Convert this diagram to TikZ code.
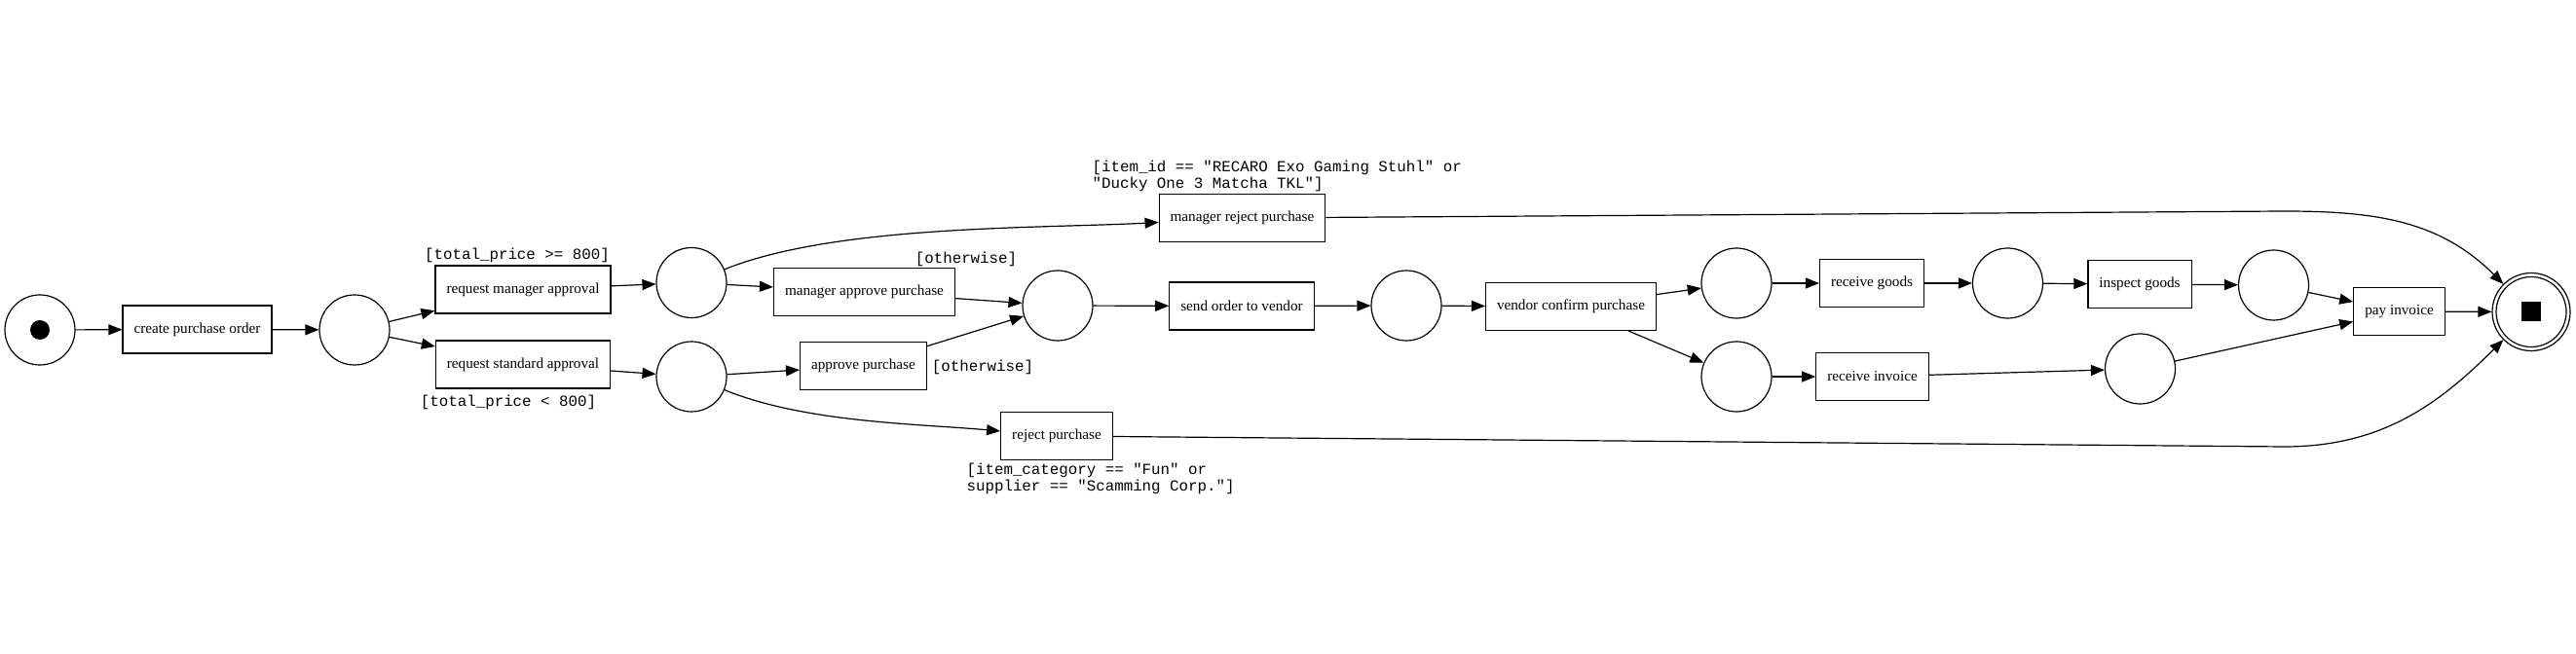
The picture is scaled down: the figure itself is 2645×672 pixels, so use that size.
\documentclass[tikz,border=0pt]{standalone}
\usepackage{fontspec}
\setmainfont{Liberation Serif}
\setmonofont{Liberation Mono}
\usetikzlibrary{arrows.meta}

\begin{document}
\begin{tikzpicture}[x=0.5pt, y=-0.5pt, line width=0.6pt,
  place/.style={circle, draw, minimum size=36pt, inner sep=0pt},
  trans/.style={draw, rectangle, minimum height=24.5pt, inner xsep=5.75pt, font=\fontsize{7.6}{9}\selectfont},
  guard/.style={font=\ttfamily\fontsize{7.9}{8.3}\selectfont, align=left, inner sep=0pt},
  flow/.style={-{Triangle[length=7pt,width=5.5pt]}}]
\useasboundingbox (0,0) rectangle (2645,672);
\node[place] (start) at (41,339) {};
\node[circle, fill, minimum size=10pt, inner sep=0pt] (token) at (start) {};
\node[trans] (create) at (202.5,338.5) {create purchase order};
\node[place] (p1) at (364,339) {};
\node[trans] (reqmgr) at (537,297.5) {request manager approval};
\node[trans] (reqstd) at (537,374.5) {request standard approval};
\node[place] (pmgr) at (710,290.5) {};
\node[place] (pstd) at (710,387) {};
\node[trans] (mgrappr) at (887.5,300) {manager approve purchase};
\node[trans] (mgrrej) at (1275.5,224) {manager reject purchase};
\node[trans] (appr) at (886.5,376) {approve purchase};
\node[trans] (rej) at (1085,448) {reject purchase};
\node[place] (pjoin) at (1086,314) {};
\node[trans] (send) at (1275,314.5) {send order to vendor};
\node[place] (psend) at (1444,314) {};
\node[trans] (confirm) at (1613,315) {vendor confirm purchase};
\node[place] (pg1) at (1783,291) {};
\node[place] (pi1) at (1783,387) {};
\node[trans] (recgoods) at (1922,291) {receive goods};
\node[trans] (recinv) at (1922.5,387) {receive invoice};
\node[place] (pg2) at (2061.5,291) {};
\node[trans] (inspect) at (2197,292) {inspect goods};
\node[place] (pg3) at (2334.5,293) {};
\node[place] (pi2) at (2197.5,379) {};
\node[trans] (pay) at (2463.5,320) {pay invoice};
\node[place, minimum size=40pt] (end) at (2599,320.5) {};
\node[place] (endin) at (end) {};
\node[fill, minimum size=10pt, inner sep=0pt] (endmark) at (end) {};

\node[guard] (gmgr) at (531,262) {[total\_price >= 800]};
\node[guard] (gstd) at (522,413) {[total\_price < 800]};
\node[guard] (gother1) at (992,266) {[otherwise]};
\node[guard] (gother2) at (1009,377) {[otherwise]};
\node[guard, anchor=west] (gitem) at (1121,181) {[item\_id == "RECARO Exo Gaming Stuhl" or\\"Ducky One 3 Matcha TKL"]};
\node[guard, anchor=west] (gcat) at (992,492) {[item\_category == "Fun" or\\supplier == "Scamming Corp."]};

\coordinate (topbend) at (2345,217);
\coordinate (botbend) at (2345,459);

\draw[flow] (start) -- (create);
\draw[flow] (create) -- (p1);
\draw[flow] (p1) -- (reqmgr);
\draw[flow] (p1) -- (reqstd);
\draw[flow] (reqmgr) -- (pmgr);
\draw[flow] (reqstd) -- (pstd);
\draw[flow] (pmgr) -- (mgrappr);
\draw[flow] (pmgr) to[out=22,in=183,looseness=0.7] (mgrrej);
\draw[flow] (pstd) -- (appr);
\draw[flow] (pstd) to[out=-22,in=175,looseness=0.8] (rej);
\draw[flow] (mgrappr) -- (pjoin);
\draw[flow] (appr) -- (pjoin);
\draw[flow] (pjoin) -- (send);
\draw[flow] (send) -- (psend);
\draw[flow] (psend) -- (confirm);
\draw[flow] (confirm) -- (pg1);
\draw[flow] (confirm) -- (pi1);
\draw[flow] (pg1) -- (recgoods);
\draw[flow] (recgoods) -- (pg2);
\draw[flow] (pg2) -- (inspect);
\draw[flow] (inspect) -- (pg3);
\draw[flow] (pg3) -- (pay);
\draw[flow] (pi1) -- (recinv);
\draw[flow] (recinv) -- (pi2);
\draw[flow] (pi2) -- (pay);
\draw[flow] (pay) -- (end);
\draw[flow] (mgrrej) -- (topbend) to[out=0,in=135] (end);
\draw[flow] (rej) -- (botbend) to[out=0,in=225] (end);
\end{tikzpicture}
\end{document}
